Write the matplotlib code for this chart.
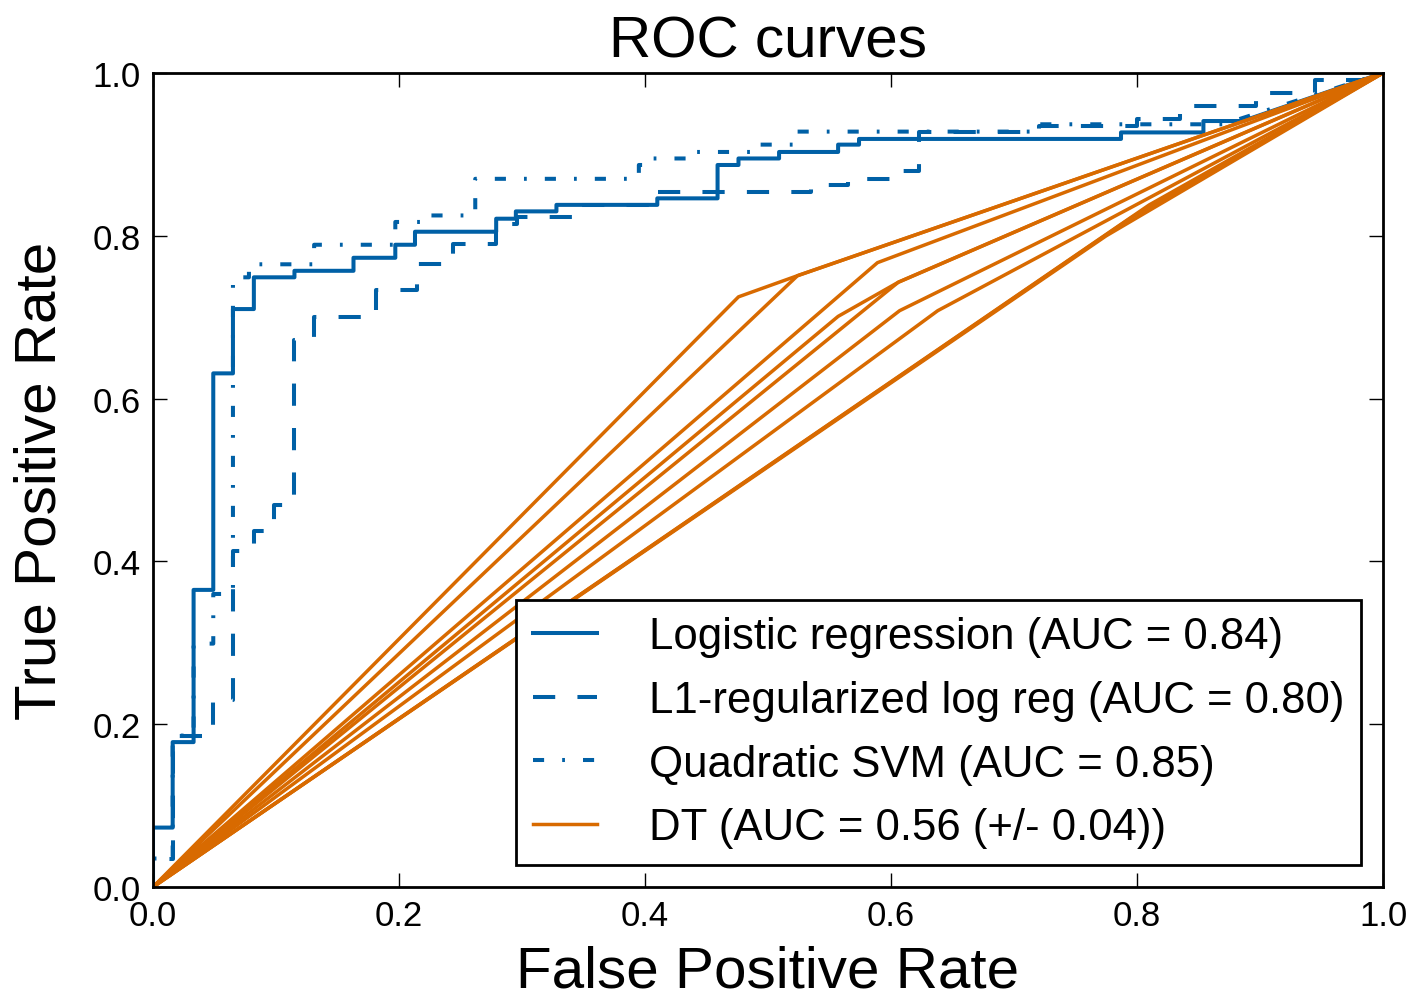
import matplotlib
matplotlib.use("Agg")
import matplotlib.pyplot as plt

# ---- ROC data (corner points of each curve) ----
lr_fpr = [0, 0, 0.016, 0.016, 0.033, 0.033, 0.049, 0.049, 0.065, 0.065, 0.082, 0.082,
          0.115, 0.115, 0.163, 0.163, 0.197, 0.197, 0.213, 0.213, 0.279, 0.279, 0.295,
          0.295, 0.328, 0.328, 0.410, 0.410, 0.459, 0.459, 0.476, 0.476, 0.509, 0.509,
          0.557, 0.557, 0.574, 0.574, 0.787, 0.787, 0.854, 0.854, 0.886, 1.0]
lr_tpr = [0, 0.073, 0.073, 0.178, 0.178, 0.365, 0.365, 0.631, 0.631, 0.710, 0.710, 0.749,
          0.749, 0.757, 0.757, 0.773, 0.773, 0.789, 0.789, 0.805, 0.805, 0.821, 0.821,
          0.830, 0.830, 0.838, 0.838, 0.846, 0.846, 0.887, 0.887, 0.895, 0.895, 0.903,
          0.903, 0.912, 0.912, 0.919, 0.919, 0.927, 0.927, 0.941, 0.941, 1.0]

l1_fpr = [0, 0, 0.016, 0.016, 0.049, 0.049, 0.065, 0.065, 0.082, 0.082, 0.098, 0.098,
          0.115, 0.115, 0.131, 0.131, 0.181, 0.181, 0.215, 0.215, 0.244, 0.244, 0.279,
          0.279, 0.296, 0.296, 0.345, 0.345, 0.410, 0.410, 0.535, 0.535, 0.565, 0.565,
          0.606, 0.606, 0.623, 0.623, 0.720, 0.720, 0.800, 0.800, 0.835, 0.835, 0.897,
          0.897, 0.945, 0.945, 1.0, 1.0]
l1_tpr = [0, 0.035, 0.035, 0.186, 0.186, 0.230, 0.230, 0.413, 0.413, 0.437, 0.437, 0.469,
          0.469, 0.672, 0.672, 0.700, 0.700, 0.733, 0.733, 0.765, 0.765, 0.790, 0.790,
          0.815, 0.815, 0.823, 0.823, 0.838, 0.838, 0.854, 0.854, 0.862, 0.862, 0.870,
          0.870, 0.879, 0.879, 0.927, 0.927, 0.935, 0.935, 0.943, 0.943, 0.960, 0.960,
          0.975, 0.975, 0.992, 0.992, 1.0]

svm_fpr = [0, 0, 0.016, 0.016, 0.033, 0.033, 0.049, 0.049, 0.065, 0.065, 0.078, 0.078,
           0.131, 0.131, 0.197, 0.197, 0.222, 0.222, 0.262, 0.262, 0.395, 0.395, 0.405,
           0.405, 0.440, 0.440, 0.492, 0.492, 0.524, 0.524, 0.720, 0.720, 0.870, 1.0]
svm_tpr = [0, 0.035, 0.035, 0.186, 0.186, 0.299, 0.299, 0.360, 0.360, 0.749, 0.749, 0.765,
           0.765, 0.789, 0.789, 0.817, 0.817, 0.825, 0.825, 0.870, 0.870, 0.887, 0.887,
           0.895, 0.895, 0.903, 0.903, 0.912, 0.912, 0.928, 0.928, 0.937, 0.937, 1.0]

# decision tree, one curve per CV fold
dt_fpr = [[0, 0.476, 0.524, 1], [0, 0.524, 1], [0, 0.589, 1], [0, 0.557, 0.606, 1],
          [0, 0.606, 1], [0, 0.607, 1], [0, 0.638, 1], [0, 0.775, 1], [0, 0.795, 1],
          [0, 0.810, 1]]
dt_tpr = [[0, 0.725, 0.751, 1], [0, 0.751, 1], [0, 0.767, 1], [0, 0.701, 0.743, 1],
          [0, 0.743, 1], [0, 0.708, 1], [0, 0.708, 1], [0, 0.800, 1], [0, 0.822, 1],
          [0, 0.838, 1]]

labels = ["Logistic regression (AUC = 0.84)", "L1-regularized log reg (AUC = 0.80)",
          "Quadratic SVM (AUC = 0.85)", "DT (AUC = 0.56 (+/- 0.04))"]

BLUE = "#0060a6"
ORANGE = "#d86a00"

plt.rcParams["font.family"] = ["Liberation Sans", "DejaVu Sans"]
plt.rcParams["lines.scale_dashes"] = False

fig = plt.figure(figsize=(14.16, 10.03), dpi=100)
ax = fig.add_axes([153 / 1416, 1 - 888 / 1003, 1230 / 1416, 814 / 1003])

ax.plot(lr_fpr, lr_tpr, color=BLUE, lw=2.9, label=labels[0])
ax.plot(l1_fpr, l1_tpr, color=BLUE, lw=2.9, dashes=(16, 16), label=labels[1])
ax.plot(svm_fpr, svm_tpr, color=BLUE, lw=2.9, dashes=(8, 13, 2, 13), label=labels[2])
for i, (fx, ty) in enumerate(zip(dt_fpr, dt_tpr)):
    ax.plot(fx, ty, color=ORANGE, lw=2.5, label=labels[3] if i == 0 else None)

ax.set_xlim(0, 1)
ax.set_ylim(0, 1)
ax.set_xticks([0, 0.2, 0.4, 0.6, 0.8, 1.0])
ax.set_yticks([0, 0.2, 0.4, 0.6, 0.8, 1.0])
ax.tick_params(direction="in", top=True, right=True, length=10, width=1,
               labelsize=25, pad=9)
for s in ax.spines.values():
    s.set_linewidth(2)

ax.set_title("ROC curves", fontsize=42, pad=12)
ax.set_xlabel("False Positive Rate", fontsize=42, labelpad=9)
ax.set_ylabel("True Positive Rate", fontsize=42, labelpad=18)

leg = ax.legend(loc="lower right", fontsize=31.5, fancybox=False, framealpha=1,
                edgecolor="black", handlelength=1.45, handletextpad=1.2,
                labelspacing=0.52, borderpad=0.38)
leg.get_frame().set_linewidth(2)

fig.savefig("out.png", dpi=100)
